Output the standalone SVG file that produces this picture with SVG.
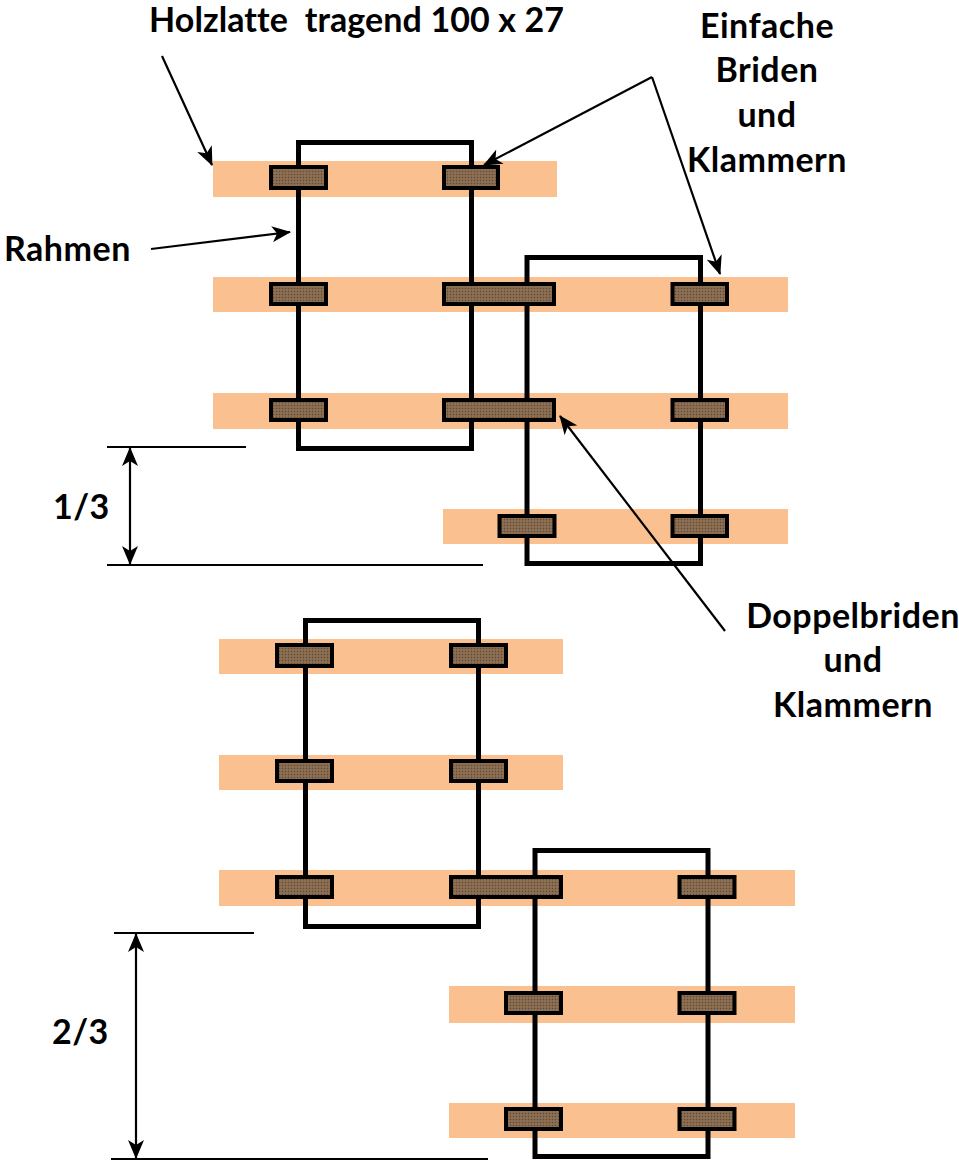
<svg xmlns="http://www.w3.org/2000/svg" width="959" height="1163" viewBox="0 0 959 1163">
<style>
.p{fill:#fac090}
.f{fill:none;stroke:#000;stroke-width:5}
.c{fill:url(#dots);stroke:#000;stroke-width:4}
.l{fill:none;stroke:#000;stroke-width:2.200}
.a{marker-end:url(#ah)}
.t{font-family:"Lato","Carlito","Liberation Sans",sans-serif;font-weight:700;font-size:34px;letter-spacing:.5px;fill:#000;white-space:pre}
.m{text-anchor:middle}
</style>
<defs>
<pattern id="dots" width="3" height="3" patternUnits="userSpaceOnUse">
<rect width="3" height="3" fill="#84674c"/>
<rect x="0" y="0" width="1" height="1" fill="#5e4a38"/>
<rect x="1.500" y="1.500" width="1" height="1" fill="#a8896a"/>
</pattern>
<marker id="ah" viewBox="0 0 19 16" refX="18" refY="8" markerWidth="19" markerHeight="16" markerUnits="userSpaceOnUse" orient="auto-start-reverse">
<path d="M0 0L19 8L0 16L5 8Z" fill="#000"/>
</marker>
</defs>
<g id="planks">
<rect class="p" x="213" y="161" width="344" height="36"/>
<rect class="p" x="213" y="277" width="575" height="35"/>
<rect class="p" x="213" y="393" width="575" height="36"/>
<rect class="p" x="443" y="509" width="345" height="35"/>
<rect class="p" x="219" y="639" width="344" height="35"/>
<rect class="p" x="219" y="755" width="344" height="35"/>
<rect class="p" x="219" y="870" width="576" height="36"/>
<rect class="p" x="449" y="986" width="346" height="37"/>
<rect class="p" x="449" y="1103" width="346" height="35"/>
</g>
<g id="frames">
<rect class="f" x="298.500" y="142.500" width="173" height="306"/>
<rect class="f" x="527" y="257.500" width="173.500" height="306"/>
<rect class="f" x="305.500" y="620.500" width="173" height="306"/>
<rect class="f" x="535" y="850.500" width="173" height="306"/>
</g>
<g id="clamps">
<rect class="c" x="271" y="167" width="55" height="21"/>
<rect class="c" x="444" y="167" width="54" height="21"/>
<rect class="c" x="271" y="284" width="55" height="20"/>
<rect class="c" x="444" y="284" width="110" height="20"/>
<rect class="c" x="672.500" y="284" width="54.500" height="20"/>
<rect class="c" x="271" y="400" width="55" height="20"/>
<rect class="c" x="444" y="400" width="110" height="20"/>
<rect class="c" x="672.500" y="400" width="54.500" height="20"/>
<rect class="c" x="499.500" y="516" width="55" height="20"/>
<rect class="c" x="672.500" y="516" width="54.500" height="20"/>
<rect class="c" x="277" y="645" width="55" height="21"/>
<rect class="c" x="451" y="645" width="55" height="21"/>
<rect class="c" x="277" y="761" width="55" height="20"/>
<rect class="c" x="451" y="761" width="55" height="20"/>
<rect class="c" x="277" y="877" width="55" height="20"/>
<rect class="c" x="451" y="877" width="110" height="20"/>
<rect class="c" x="679.500" y="877" width="55" height="20"/>
<rect class="c" x="506" y="993" width="55" height="20"/>
<rect class="c" x="679.500" y="993" width="55" height="20"/>
<rect class="c" x="506" y="1109" width="55" height="20"/>
<rect class="c" x="679.500" y="1109" width="55" height="20"/>
</g>
<g id="connectors">
<line class="l a" x1="162" y1="56" x2="212" y2="165"/>
<line class="l a" x1="151" y1="249" x2="290" y2="232"/>
<line class="l a" x1="652" y1="77" x2="484" y2="165"/>
<line class="l a" x1="652" y1="77" x2="720" y2="274"/>
<line class="l a" x1="725" y1="631" x2="560" y2="416"/>
<line class="l" x1="107" y1="447" x2="246" y2="447"/>
<line class="l" x1="107" y1="565" x2="483" y2="565"/>
<line class="l a" x1="130" y1="506" x2="130" y2="448"/>
<line class="l a" x1="130" y1="506" x2="130" y2="564"/>
<line class="l" x1="114" y1="933" x2="254" y2="933"/>
<line class="l" x1="111" y1="1159" x2="488" y2="1159"/>
<line class="l a" x1="136" y1="1046" x2="136" y2="934"/>
<line class="l a" x1="136" y1="1046" x2="136" y2="1158"/>
</g>
<g id="labels">
<text class="t" x="149" y="32" style="letter-spacing:.1px">Holzlatte  tragend 100 x 27</text>
<text class="t m" x="767" y="38">Einfache</text>
<text class="t m" x="767" y="82">Briden</text>
<text class="t m" x="767" y="127">und</text>
<text class="t m" x="767" y="172">Klammern</text>
<text class="t" x="4" y="261">Rahmen</text>
<text class="t" x="53" y="519">1/3</text>
<text class="t m" x="853" y="628">Doppelbriden</text>
<text class="t m" x="853" y="672">und</text>
<text class="t m" x="853" y="717">Klammern</text>
<text class="t" x="52" y="1044">2/3</text>
</g>
</svg>
